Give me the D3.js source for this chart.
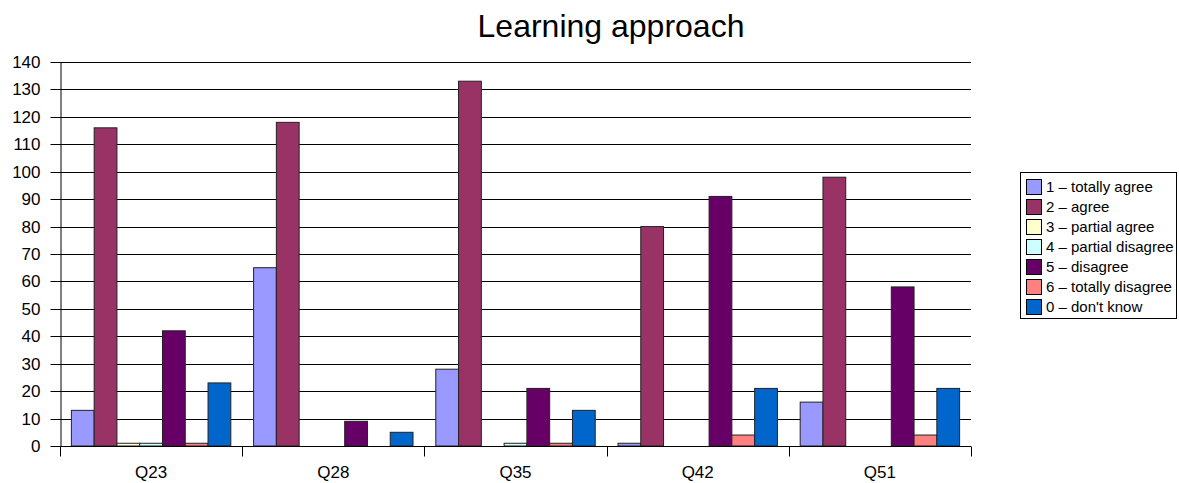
<!DOCTYPE html>
<html>
<head>
<meta charset="utf-8">
<script src="https://cdn.jsdelivr.net/npm/d3@7/dist/d3.min.js"></script>
<style>
  html, body { margin: 0; padding: 0; background: #fff; }
  svg { display: block; font-family: "Liberation Sans", Arial, sans-serif; }
</style>
</head>
<body>
<svg id="chart" width="1179" height="483"></svg>
<script>
// Questions on the x axis
const categories = ["Q23", "Q28", "Q35", "Q42", "Q51"];

// Answer options (series), in legend order
const seriesNames = [
  "1 – totally agree",
  "2 – agree",
  "3 – partial agree",
  "4 – partial disagree",
  "5 – disagree",
  "6 – totally disagree",
  "0 – don't know"
];

// Counts per series, one value per question
const totallyAgree    = [13, 65, 28, 1, 16];
const agree           = [116, 118, 133, 80, 98];
const partialAgree    = [1, 0, 0, 0, 0];
const partialDisagree = [1, 0, 1, 0, 0];
const disagree        = [42, 9, 21, 91, 58];
const totallyDisagree = [1, 0, 1, 4, 4];
const dontKnow        = [23, 5, 13, 21, 21];

const seriesValues = [totallyAgree, agree, partialAgree, partialDisagree, disagree, totallyDisagree, dontKnow];
const seriesColors = ["#9999FF", "#993366", "#FFFFCC", "#CCFFFF", "#660066", "#FF8080", "#0066CC"];

const yTicks = [0, 10, 20, 30, 40, 50, 60, 70, 80, 90, 100, 110, 120, 130, 140];

const svg = d3.select("#chart");
const plot = { left: 60, right: 971, top: 62, bottom: 446 };

const x0 = d3.scaleBand().domain(categories).range([plot.left, plot.right]).paddingInner(0).paddingOuter(0);
const x1 = d3.scaleBand().domain(d3.range(seriesNames.length))
  .range([0, x0.bandwidth()]).paddingInner(0).paddingOuter(0.5);
const y = d3.scaleLinear().domain([0, 140]).range([plot.bottom, plot.top]);

// Title
svg.append("text")
  .attr("x", 611).attr("y", 37)
  .attr("text-anchor", "middle")
  .attr("font-size", 32)
  .attr("fill", "#000")
  .text("Learning approach");

// Horizontal gridlines
svg.append("g").selectAll("line").data(yTicks.filter(d => d > 0)).join("line")
  .attr("x1", plot.left).attr("x2", plot.right)
  .attr("y1", d => Math.round(y(d)) + 0.5).attr("y2", d => Math.round(y(d)) + 0.5)
  .attr("stroke", "#000").attr("stroke-width", 1);

// Y axis
const yAxis = svg.append("g")
  .attr("transform", `translate(${plot.left + 0.5},0)`)
  .call(d3.axisLeft(y).tickValues(yTicks).tickSize(10).tickPadding(10).tickSizeOuter(0));
yAxis.selectAll("text").attr("font-size", 17).attr("fill", "#000").attr("font-family", "Liberation Sans, Arial, sans-serif");
yAxis.selectAll("line").attr("stroke", "#000");
yAxis.select(".domain").attr("stroke", "#000");
yAxis.selectAll(".tick").attr("transform", d => `translate(0,${Math.round(y(d)) + 0.5})`);

// Bars
const groups = svg.append("g").selectAll("g").data(categories).join("g")
  .attr("transform", c => `translate(${x0(c)},0)`);
groups.selectAll("rect")
  .data((c, ci) => seriesValues.map((vals, si) => ({ si, v: vals[ci] })))
  .join("rect")
  .filter(d => d.v > 0)
  .attr("x", d => x1(d.si))
  .attr("width", x1.bandwidth())
  .attr("y", d => y(d.v))
  .attr("height", d => y(0) - y(d.v))
  .attr("fill", d => seriesColors[d.si])
  .attr("stroke", "#222")
  .attr("stroke-width", 1);

// X axis
const xAxis = svg.append("g")
  .attr("transform", `translate(0,${plot.bottom + 0.5})`);
xAxis.append("line")
  .attr("x1", plot.left).attr("x2", plot.right)
  .attr("stroke", "#000");
const bounds = categories.map(c => x0(c)).concat([plot.right]);
xAxis.selectAll(".cat-tick").data(bounds).join("line")
  .attr("class", "cat-tick")
  .attr("x1", d => Math.round(d) + 0.5).attr("x2", d => Math.round(d) + 0.5)
  .attr("y1", 0).attr("y2", 10)
  .attr("stroke", "#000");
xAxis.selectAll("text").data(categories).join("text")
  .attr("x", c => x0(c) + x0.bandwidth() / 2)
  .attr("y", 31)
  .attr("text-anchor", "middle")
  .attr("font-size", 17)
  .attr("fill", "#000")
  .text(c => c);

// Legend
const legend = svg.append("g").attr("transform", "translate(1020,172)");
legend.append("rect")
  .attr("x", 0.5).attr("y", 0.5).attr("width", 156).attr("height", 146)
  .attr("fill", "#fff").attr("stroke", "#000");
const items = legend.selectAll(".item").data(seriesNames).join("g")
  .attr("class", "item")
  .attr("transform", (d, i) => `translate(0,${7 + i * 20})`);
items.append("rect")
  .attr("x", 6.5).attr("y", 0.5).attr("width", 15).attr("height", 15)
  .attr("fill", (d, i) => seriesColors[i]).attr("stroke", "#000");
items.append("text")
  .attr("x", 26).attr("y", 13)
  .attr("font-size", 15)
  .attr("fill", "#000")
  .text(d => d);
</script>
</body>
</html>
